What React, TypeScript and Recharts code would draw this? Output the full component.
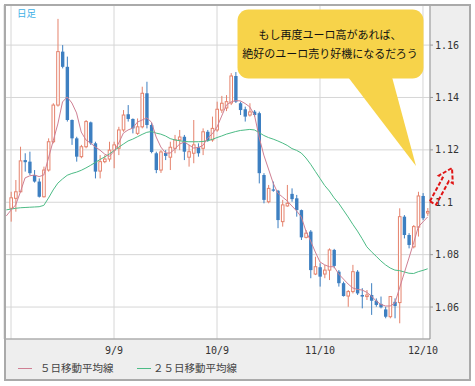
import React from 'react';
import { ComposedChart, Bar, Line, XAxis, YAxis, CartesianGrid } from 'recharts';

// 営業日（最初の1本は移動平均線だけ）
const dates = [
  '8/7',
  '8/10', '8/11', '8/12', '8/13', '8/14',
  '8/17', '8/18', '8/19', '8/20', '8/21',
  '8/24', '8/25', '8/26', '8/27', '8/28',
  '8/31', '9/1', '9/2', '9/3', '9/4',
  '9/7', '9/8', '9/9', '9/10', '9/11',
  '9/14', '9/15', '9/16', '9/17', '9/18',
  '9/21', '9/22', '9/23', '9/24', '9/25',
  '9/28', '9/29', '9/30', '10/1', '10/2',
  '10/5', '10/6', '10/7', '10/8', '10/9',
  '10/12', '10/13', '10/14', '10/15', '10/16',
  '10/19', '10/20', '10/21', '10/22', '10/23',
  '10/26', '10/27', '10/28', '10/29', '10/30',
  '11/2', '11/3', '11/4', '11/5', '11/6',
  '11/9', '11/10', '11/11', '11/12', '11/13',
  '11/16', '11/17', '11/18', '11/19', '11/20',
  '11/23', '11/24', '11/25', '11/26', '11/27',
  '11/30', '12/1', '12/2', '12/3', '12/4',
  '12/7', '12/8', '12/9', '12/10', '12/11',
];

const tickDates = ['8/10', '9/9', '10/9', '11/10', '12/10'];
const priceTicks = [1.06, 1.08, 1.1, 1.12, 1.14, 1.16];

const opens = [
  null,
  1.0977, 1.1015, 1.1040, 1.1161, 1.1155, 1.1104, 1.1079, 1.1021, 1.1123, 1.1231,
  1.1371, 1.1575, 1.1517, 1.1314, 1.1244, 1.1174, 1.1212, 1.1305, 1.1225, 1.1119,
  1.1155, 1.1165, 1.1199, 1.1206, 1.1276, 1.1336, 1.1318, 1.1263, 1.1288, 1.1416,
  1.1295, 1.1187, 1.1123, 1.1188, 1.1172, 1.1206, 1.1238, 1.1250, 1.1172, 1.1187,
  1.1210, 1.1206, 1.1269, 1.1238, 1.1276, 1.1352, 1.1360, 1.1379, 1.1482, 1.1378,
  1.1355, 1.1333, 1.1346, 1.1340, 1.1104, 1.1002, 1.1049, 1.1044, 1.0926, 1.0986,
  1.1032, 1.1015, 1.0970, 1.0866, 1.0888, 1.0726, 1.0752, 1.0726, 1.0741, 1.0818,
  1.0735, 1.0691, 1.0642, 1.0659, 1.0735, 1.0646, 1.0640, 1.0646, 1.0624, 1.0612,
  1.0591, 1.0563, 1.0620, 1.0617, 1.0945, 1.0875, 1.0830, 1.0905, 1.1024, 1.0959,
];
const highs = [
  null,
  1.1040, 1.1085, 1.1212, 1.1187, 1.1193, 1.1123, 1.1091, 1.1136, 1.1244, 1.1378,
  1.1700, 1.1600, 1.1556, 1.1316, 1.1250, 1.1219, 1.1314, 1.1308, 1.1231, 1.1180,
  1.1180, 1.1231, 1.1231, 1.1288, 1.1352, 1.1371, 1.1320, 1.1320, 1.1441, 1.1460,
  1.1303, 1.1193, 1.1199, 1.1199, 1.1231, 1.1257, 1.1276, 1.1257, 1.1219, 1.1314,
  1.1225, 1.1282, 1.1276, 1.1327, 1.1384, 1.1406, 1.1409, 1.1493, 1.1497, 1.1384,
  1.1365, 1.1378, 1.1352, 1.1346, 1.1111, 1.1066, 1.1079, 1.1047, 1.1009, 1.1066,
  1.1053, 1.1028, 1.0972, 1.0894, 1.0894, 1.0792, 1.0767, 1.0761, 1.0824, 1.0822,
  1.0741, 1.0697, 1.0665, 1.0761, 1.0741, 1.0672, 1.0665, 1.0691, 1.0633, 1.0640,
  1.0601, 1.0642, 1.0633, 1.0977, 1.0951, 1.0882, 1.0913, 1.1040, 1.1035, 1.0978,
];
const lows = [
  null,
  1.0926, 1.0964, 1.1038, 1.1117, 1.1104, 1.1075, 1.1018, 1.1018, 1.1117, 1.1225,
  1.1365, 1.1511, 1.1308, 1.1219, 1.1155, 1.1168, 1.1206, 1.1219, 1.1091, 1.1091,
  1.1149, 1.1155, 1.1130, 1.1180, 1.1269, 1.1308, 1.1263, 1.1257, 1.1282, 1.1282,
  1.1187, 1.1111, 1.1112, 1.1161, 1.1123, 1.1187, 1.1199, 1.1161, 1.1136, 1.1149,
  1.1174, 1.1180, 1.1231, 1.1231, 1.1269, 1.1341, 1.1348, 1.1371, 1.1379, 1.1333,
  1.1308, 1.1327, 1.1327, 1.1072, 1.0996, 1.0996, 1.1040, 1.0901, 1.0907, 1.0983,
  1.1002, 1.0945, 1.0856, 1.0862, 1.0710, 1.0722, 1.0678, 1.0710, 1.0703, 1.0748,
  1.0678, 1.0640, 1.0601, 1.0652, 1.0646, 1.0595, 1.0627, 1.0570, 1.0601, 1.0595,
  1.0557, 1.0557, 1.0557, 1.0538, 1.0862, 1.0824, 1.0824, 1.0869, 1.0932, 1.0948,
];
const closes = [
  null,
  1.1017, 1.1040, 1.1158, 1.1153, 1.1111, 1.1079, 1.1021, 1.1123, 1.1231, 1.1371,
  1.1575, 1.1517, 1.1314, 1.1244, 1.1174, 1.1212, 1.1308, 1.1225, 1.1117, 1.1155,
  1.1165, 1.1199, 1.1219, 1.1276, 1.1333, 1.1318, 1.1282, 1.1288, 1.1416, 1.1295,
  1.1192, 1.1123, 1.1192, 1.1177, 1.1210, 1.1238, 1.1249, 1.1193, 1.1193, 1.1219,
  1.1187, 1.1269, 1.1235, 1.1282, 1.1355, 1.1378, 1.1384, 1.1482, 1.1384, 1.1352,
  1.1327, 1.1345, 1.1333, 1.1111, 1.1009, 1.1053, 1.1044, 1.0932, 1.0990, 1.0996,
  1.1012, 1.0970, 1.0866, 1.0882, 1.0741, 1.0754, 1.0716, 1.0741, 1.0818, 1.0757,
  1.0691, 1.0642, 1.0659, 1.0735, 1.0652, 1.0640, 1.0646, 1.0624, 1.0608, 1.0599,
  1.0563, 1.0640, 1.0604, 1.0945, 1.0875, 1.0837, 1.0907, 1.1024, 1.0939, 1.0965,
];

// ５日移動平均線
const ma5 = [
  1.0948,
  1.0970, 1.0990, 1.1039, 1.1093, 1.1101, 1.1104, 1.1098, 1.1104, 1.1169, 1.1234,
  1.1299, 1.1383, 1.1402, 1.1379, 1.1341, 1.1268, 1.1238, 1.1226, 1.1211, 1.1199,
  1.1184, 1.1175, 1.1194, 1.1226, 1.1264, 1.1276, 1.1283, 1.1306, 1.1314, 1.1322,
  1.1306, 1.1249, 1.1211, 1.1188, 1.1188, 1.1203, 1.1222, 1.1230, 1.1219, 1.1207,
  1.1209, 1.1217, 1.1245, 1.1261, 1.1287, 1.1329, 1.1371, 1.1383, 1.1388, 1.1387,
  1.1377, 1.1364, 1.1333, 1.1249, 1.1180, 1.1127, 1.1073, 1.1035, 1.1020, 1.1005,
  1.0986, 1.0967, 1.0944, 1.0890, 1.0852, 1.0810, 1.0772, 1.0761, 1.0754, 1.0754,
  1.0726, 1.0707, 1.0688, 1.0673, 1.0667, 1.0665, 1.0656, 1.0642, 1.0623, 1.0610,
  1.0604, 1.0604, 1.0615, 1.0673, 1.0730, 1.0787, 1.0845, 1.0906, 1.0925, 1.0944,
];

// ２５日移動平均線
const ma25 = [
  1.0971,
  1.0974, 1.0977, 1.0979, 1.0980, 1.0981, 1.0982, 1.0983, 1.0988, 1.1016, 1.1047,
  1.1073, 1.1089, 1.1103, 1.1110, 1.1115, 1.1122, 1.1131, 1.1141, 1.1152, 1.1163,
  1.1173, 1.1184, 1.1197, 1.1210, 1.1222, 1.1234, 1.1241, 1.1250, 1.1259, 1.1267,
  1.1270, 1.1264, 1.1260, 1.1253, 1.1243, 1.1238, 1.1235, 1.1232, 1.1231, 1.1231,
  1.1231, 1.1232, 1.1235, 1.1240, 1.1247, 1.1253, 1.1260, 1.1265, 1.1270, 1.1274,
  1.1276, 1.1278, 1.1276, 1.1266, 1.1255, 1.1247, 1.1241, 1.1234, 1.1226, 1.1217,
  1.1205, 1.1198, 1.1188, 1.1169, 1.1145, 1.1118, 1.1091, 1.1064, 1.1043, 1.1017,
  1.0996, 1.0970, 1.0944, 1.0916, 1.0890, 1.0861, 1.0830, 1.0811, 1.0794, 1.0776,
  1.0761, 1.0749, 1.0741, 1.0739, 1.0734, 1.0729, 1.0728, 1.0735, 1.0740, 1.0746,
];

const UP = '#e5826c';
const DOWN = '#3d7fc1';
const MA5_COLOR = '#cf7f93';
const MA25_COLOR = '#4cbb85';
const CJK = '"Noto Sans CJK JP", sans-serif';
const MONO = '"DejaVu Sans Mono", monospace';

const rows = dates.map((date, i) => ({
  date,
  open: opens[i],
  high: highs[i],
  low: lows[i],
  close: closes[i],
  ma5: ma5[i],
  ma25: ma25[i],
}));

const Candle = (props: any) => {
  const { x, y, width, height, payload } = props;
  if (payload == null || payload.open == null) return null;
  const top = Math.min(y, y + height);
  const bot = Math.max(y, y + height);
  const span = payload.high - payload.low;
  const py = (v: number) => (span === 0 ? top : top + ((payload.high - v) / span) * (bot - top));
  const cx = x + width / 2;
  const up = payload.close >= payload.open;
  const color = up ? UP : DOWN;
  const bTop = py(Math.max(payload.open, payload.close));
  const bBot = py(Math.min(payload.open, payload.close));
  const bh = Math.max(bBot - bTop, 1);
  return (
    <g>
      <line x1={cx} x2={cx} y1={top} y2={bot} stroke={color} strokeWidth={1} />
      {up ? (
        <rect x={cx - 1.3} y={bTop} width={2.6} height={bh} fill="#fff" stroke={color} strokeWidth={1} />
      ) : (
        <rect x={cx - 1.7} y={bTop} width={3.4} height={bh} fill={color} />
      )}
    </g>
  );
};

// 矢印（右上向き、破線）
const arrowPoints = '429.9,201.3 442.7,177.7 438.8,175.6 452,168 452.8,183.2 448.9,181.1 436.1,204.7';

export default function App() {
  return (
    <div style={{ position: 'absolute', left: 0, top: 0, width: 475, height: 386, background: '#fff' }}>
      <div style={{ position: 'absolute', left: 4, top: 4, width: 467, height: 377, background: '#eeeeee' }} />
      <div style={{ position: 'absolute', left: 0, top: 0 }}>
        <ComposedChart width={475} height={386} data={rows} margin={{ top: 5, right: 5, bottom: 17, left: 4 }}>
          <CartesianGrid fill="#fff" stroke="#d6d6d6" />
          <XAxis
            dataKey="date"
            ticks={tickDates}
            interval={0}
            tickLine={false}
            axisLine={{ stroke: '#999' }}
            height={30}
            tickFormatter={(v: string) => (v === '8/10' ? '' : v)}
            tick={{ fontSize: 10, fill: '#333', fontFamily: MONO }}
          />
          <YAxis
            orientation="right"
            width={40}
            domain={[1.0478, 1.1753]}
            allowDataOverflow
            ticks={priceTicks}
            tickSize={3}
            tickLine={{ stroke: '#999' }}
            axisLine={{ stroke: '#999' }}
            tick={{ fontSize: 10, fill: '#333', fontFamily: MONO }}
          />
          <Bar
            dataKey={(d: any) => (d.open == null ? null : [d.low, d.high])}
            barSize={3}
            shape={Candle}
            isAnimationActive={false}
          />
          <Line dataKey="ma25" type="linear" stroke={MA25_COLOR} strokeWidth={1} dot={false} isAnimationActive={false} />
          <Line dataKey="ma5" type="linear" stroke={MA5_COLOR} strokeWidth={1} dot={false} isAnimationActive={false} />
        </ComposedChart>
      </div>
      <div
        style={{
          position: 'absolute', left: 4, top: 4, width: 467, height: 377,
          boxSizing: 'border-box', border: '2px solid #aaaaaa', pointerEvents: 'none',
        }}
      />
      <svg width={475} height={386} style={{ position: 'absolute', left: 0, top: 0, pointerEvents: 'none' }}>
        <text x={17} y={17} fontSize={9.5} fill="#3fb0e6" fontFamily={CJK}>日足</text>
        <polygon points="348,77 392,77 416,166" fill="#f7d34a" />
        <rect x={237.5} y={9.5} width={186} height={69} rx={11} fill="#f7d34a" />
        <text x={330} y={39} fontSize={11} fill="#111" fontFamily={CJK} textAnchor="middle">もし再度ユーロ高があれば、</text>
        <text x={330} y={58} fontSize={11} fill="#111" fontFamily={CJK} textAnchor="middle">絶好のユーロ売り好機になるだろう</text>
        <polygon points={arrowPoints} fill="none" stroke="#e01515" strokeWidth={2} strokeDasharray="4 2" />
      </svg>
      <div style={{ position: 'absolute', left: 18, top: 368, width: 14, height: 1, background: MA5_COLOR }} />
      <div style={{ position: 'absolute', left: 40, top: 362, fontSize: 10.5, lineHeight: '12px', color: '#444', fontFamily: CJK, whiteSpace: 'nowrap' }}>
        ５日移動平均線
      </div>
      <div style={{ position: 'absolute', left: 137, top: 368, width: 14, height: 1, background: MA25_COLOR }} />
      <div style={{ position: 'absolute', left: 153, top: 362, fontSize: 10.5, lineHeight: '12px', color: '#444', fontFamily: CJK, whiteSpace: 'nowrap' }}>
        ２５日移動平均線
      </div>
    </div>
  );
}
